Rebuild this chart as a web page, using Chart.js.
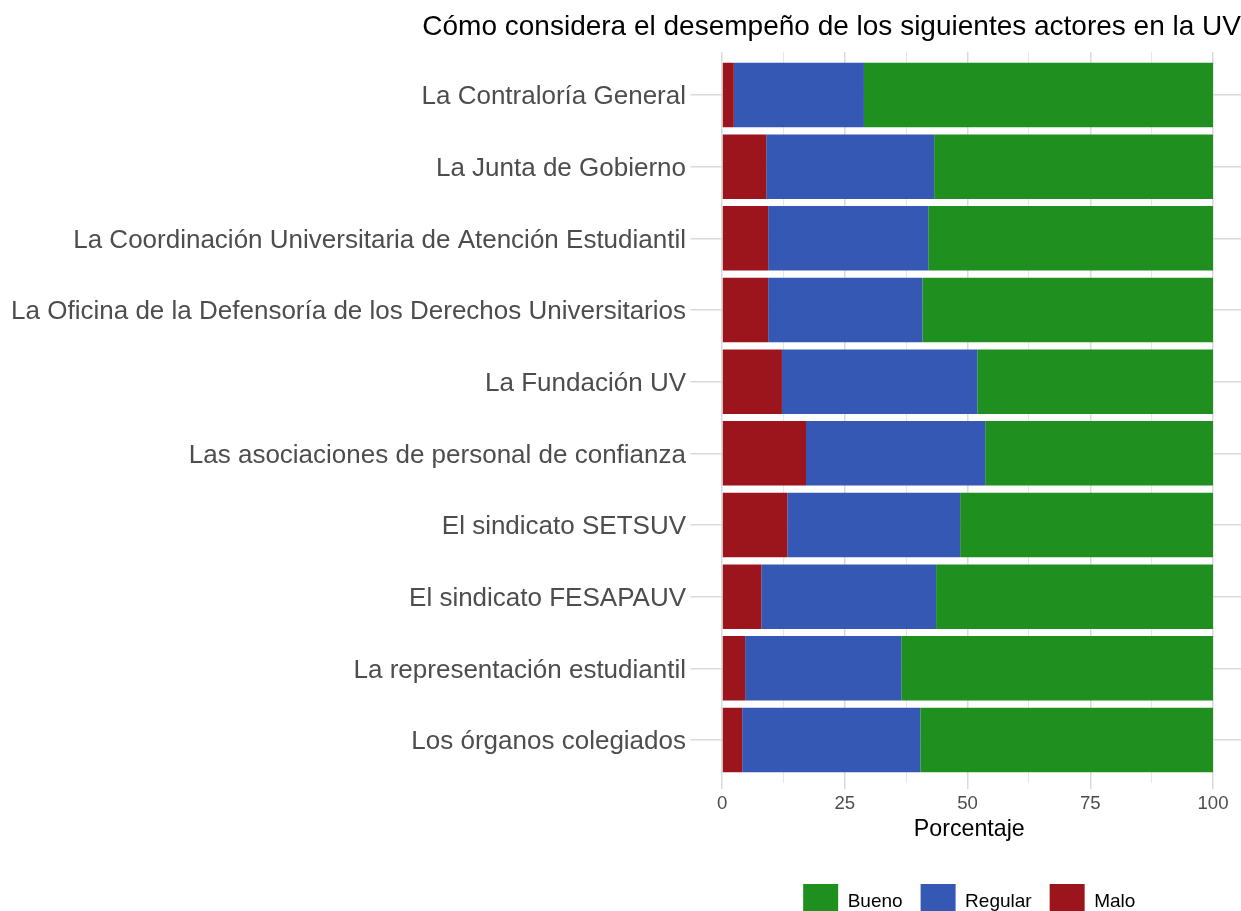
<!DOCTYPE html>
<html>
<head>
<meta charset="utf-8">
<script src="https://cdn.jsdelivr.net/npm/chart.js@4.4.1/dist/chart.umd.min.js"></script>
<style>
  html, body { margin: 0; padding: 0; background: #ffffff; overflow: hidden; }
  #wrap { width: 1241px; height: 911px; overflow: hidden; }
  canvas { display: block; }
</style>
</head>
<body>
<div id="wrap">
  <canvas id="chart" width="1241" height="929"></canvas>
</div>
<script>
// Categories (top to bottom)
var actores = [
  "La Contraloría General",
  "La Junta de Gobierno",
  "La Coordinación Universitaria de Atención Estudiantil",
  "La Oficina de la Defensoría de los Derechos Universitarios",
  "La Fundación UV",
  "Las asociaciones de personal de confianza",
  "El sindicato SETSUV",
  "El sindicato FESAPAUV",
  "La representación estudiantil",
  "Los órganos colegiados"
];

// Percentages per answer
var malo    = [2.4, 9.0, 9.4, 9.4, 12.2, 17.1, 13.3, 8.0, 4.7, 4.1];
var regular = [26.5, 34.2, 32.6, 31.4, 39.8, 36.5, 35.2, 35.6, 31.8, 36.3];
var bueno   = [71.1, 56.8, 58.0, 59.2, 48.0, 46.4, 51.5, 56.4, 63.5, 59.6];

// Axis ticks
var xTicks = [0, 25, 50, 75, 100];

var fontFamily = "'Liberation Sans', Arial, Helvetica, sans-serif";

// Bars sit on a linear index axis so the ggplot-style 0.6 padding can be kept
function toPoints(values) {
  return values.map(function(v, i) { return { x: v, y: i }; });
}

function isMajor(value) {
  return xTicks.indexOf(value) !== -1;
}

var ctx = document.getElementById("chart").getContext("2d");

var chart = new Chart(ctx, {
  type: "bar",
  data: {
    datasets: [
      { label: "Malo", data: toPoints(malo), backgroundColor: "#9c141c" },
      { label: "Regular", data: toPoints(regular), backgroundColor: "#3558b4" },
      { label: "Bueno", data: toPoints(bueno), backgroundColor: "#1f8f1f" }
    ]
  },
  options: {
    indexAxis: "y",
    responsive: false,
    animation: false,
    layout: { padding: 0 },
    datasets: {
      bar: {
        barPercentage: 0.9,
        categoryPercentage: 1,
        borderWidth: 0
      }
    },
    scales: {
      x: {
        type: "linear",
        stacked: true,
        min: -5,
        max: 105.7,
        border: { display: false },
        grid: {
          color: function(c) { return isMajor(c.tick.value) ? "#dadada" : "#e6e6e6"; },
          lineWidth: function(c) { return isMajor(c.tick.value) ? 1.5 : 1; },
          drawTicks: true,
          tickLength: 6,
          tickColor: function(c) { return isMajor(c.tick.value) ? "#dadada" : "rgba(0,0,0,0)"; },
          tickWidth: 1.5
        },
        ticks: {
          stepSize: 12.5,
          includeBounds: false,
          autoSkip: false,
          maxRotation: 0,
          padding: 4,
          color: "#4d4d4d",
          font: { family: fontFamily, size: 18.6 },
          callback: function(value) { return isMajor(value) ? String(value) : ""; }
        },
        title: {
          display: true,
          text: "Porcentaje",
          color: "#000000",
          font: { family: fontFamily, size: 23.2 },
          padding: { top: 0, bottom: 22 }
        },
        afterFit: function(scale) { scale.height = 83; }
      },
      y: {
        type: "linear",
        stacked: true,
        reverse: true,
        offset: false,
        min: -0.6,
        max: 9.6,
        border: { display: false },
        grid: {
          offset: false,
          color: "#dadada",
          lineWidth: 1.5,
          drawTicks: true,
          tickLength: 7,
          tickColor: "#dadada",
          tickWidth: 1.5
        },
        ticks: {
          stepSize: 1,
          includeBounds: false,
          autoSkip: false,
          padding: 4.5,
          labelOffset: 2,
          color: "#4d4d4d",
          font: { family: fontFamily, size: 26 },
          callback: function(value) {
            return Number.isInteger(value) && actores[value] ? actores[value] : "";
          }
        },
        afterFit: function(scale) { scale.width = 697.5; }
      }
    },
    plugins: {
      title: {
        display: true,
        text: "Cómo considera el desempeño de los siguientes actores en la UV",
        align: "end",
        color: "#000000",
        font: { family: fontFamily, size: 28, weight: "normal" },
        padding: { top: 10.7, bottom: 7.7 }
      },
      legend: {
        display: true,
        position: "bottom",
        fullSize: false,
        reverse: true,
        labels: {
          boxWidth: 35,
          boxHeight: 35,
          padding: 18,
          color: "#000000",
          font: { family: fontFamily, size: 19 }
        }
      },
      tooltip: { enabled: false }
    }
  }
});
</script>
</body>
</html>
